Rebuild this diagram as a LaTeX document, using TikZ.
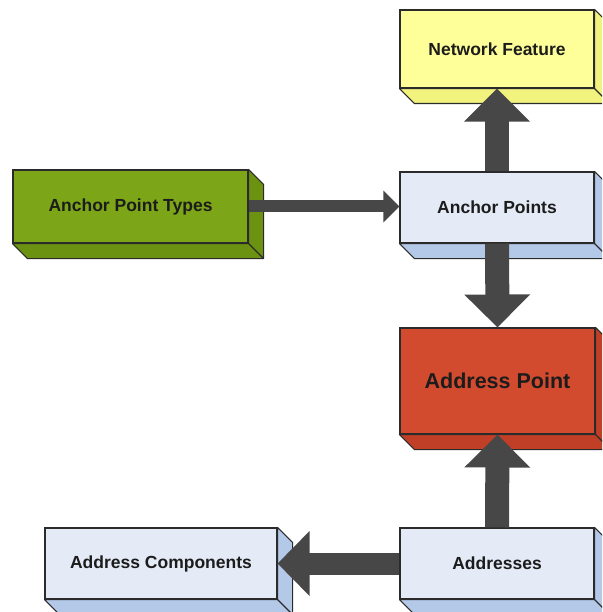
\documentclass[tikz,border=0pt]{standalone}
\usepackage{fontspec}
\setmainfont{Liberation Sans}
\usetikzlibrary{arrows.meta}

\definecolor{boxline}{HTML}{2B2B2B}
\definecolor{textgray}{HTML}{1C1C1C}
\definecolor{arrowgray}{HTML}{474747}
\definecolor{yelfront}{HTML}{FFFF99}
\definecolor{yelside}{HTML}{F2F27E}
\definecolor{grnfront}{HTML}{7CA518}
\definecolor{grnside}{HTML}{6C9212}
\definecolor{blufront}{HTML}{E4EBF7}
\definecolor{bluside}{HTML}{B4C8E8}
\definecolor{redfront}{HTML}{D24B2F}
\definecolor{redside}{HTML}{C23F27}

% side and bottom faces of a box, #1 node name, #2 colour
\newcommand{\extrude}[2]{%
  \draw[draw=boxline, line width=1.1pt, fill=#2, line join=round]
    (#1.north east) -- ([shift={(15,15)}]#1.north east)
    -- ([shift={(15,15)}]#1.south east) -- ([shift={(15,15)}]#1.south west)
    -- (#1.south west) -- (#1.south east) -- cycle;
  \draw[draw=boxline, line width=1.1pt] (#1.south east) -- ++(15,15);
}

\begin{document}
\begin{tikzpicture}[x=1pt,y=-1pt,
  block/.style={draw=boxline, line width=1.1pt, inner sep=0pt, text=textgray,
    font=\fontsize{17.5}{20}\selectfont\bfseries},
  fat/.style={arrowgray, line width=24pt, -{Triangle[width=64pt,length=33pt]}},
  thin/.style={arrowgray, line width=12pt, -{Triangle[width=31pt,length=16pt]}}]
\useasboundingbox (0,0) rectangle (602,612);
\clip (0,0) rectangle (602,612);

% Boxes
\node[block, fill=yelfront, minimum width=194pt, minimum height=78pt] (netfeat) at (497,49) {Network Feature};
\node[block, fill=grnfront, minimum width=235pt, minimum height=73pt] (aptypes) at (130.5,206.5) {Anchor Point Types};
\node[block, fill=blufront, minimum width=194pt, minimum height=71pt] (anchors) at (497,207.5) {Anchor Points};
\node[block, fill=redfront, minimum width=195pt, minimum height=106pt,
  font=\fontsize{21.5}{24}\selectfont\bfseries] (addrpt) at (497.5,381) {Address Point};
\node[block, fill=blufront, minimum width=232pt, minimum height=71pt] (addrcomp) at (161,563.5) {Address Components};
\node[block, fill=blufront, minimum width=194pt, minimum height=71pt] (addresses) at (497,563.5) {Addresses};

% 3D faces
\extrude{netfeat}{yelside}
\extrude{aptypes}{grnside}
\extrude{anchors}{bluside}
\extrude{addrpt}{redside}
\extrude{addrcomp}{bluside}
\extrude{addresses}{bluside}

% Connections
\draw[thin] (aptypes.east) -- (aptypes.east -| anchors.west);
\draw[fat] (anchors.north) -- (netfeat.south);
\draw[fat] (anchors.south) -- (addrpt.north);
\draw[fat] (addresses.north) -- (addrpt.south);
\draw[fat, line width=22pt, -{Triangle[width=63pt,length=32pt]}] (addresses.west) -- (addrcomp.east);
\end{tikzpicture}
\end{document}
